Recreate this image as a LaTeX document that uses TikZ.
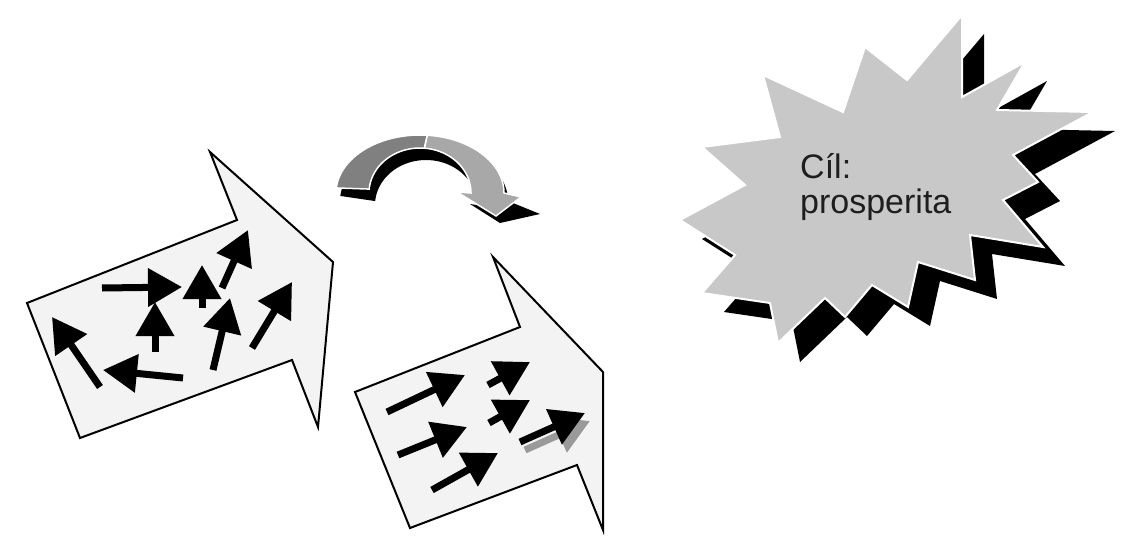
\documentclass[tikz,border=0pt]{standalone}
\usepackage{fontspec}
\setmainfont{Liberation Sans}
\usetikzlibrary{arrows.meta}
\definecolor{paper}{HTML}{F3F3F3}
\definecolor{burst}{HTML}{C8C8C8}
\definecolor{arcdark}{HTML}{808080}
\definecolor{arclight}{HTML}{A8A8A8}
\definecolor{shadowgray}{HTML}{9A9A9A}
\definecolor{inkc}{HTML}{1E1E1E}
\begin{document}
\begin{tikzpicture}[x=1pt,y=-1pt,
  bigarrow/.style={fill=paper,draw=black,line width=2pt,line join=miter},
  pointer/.style={line width=7pt,-{Triangle[length=34pt,width=37pt]}},
  burstshape/.style={fill=burst,draw=white,line width=2pt,line join=miter},
  bursttext/.style={anchor=base west,inner sep=0pt,text=inkc,font=\fontsize{34}{38}\selectfont}]
\fill[white] (0,0) rectangle (1137,551);
\useasboundingbox (0,0) rectangle (1137,551);

% left big arrow
\draw[bigarrow] (27,303) -- (237,220) -- (210,152) -- (333,262) -- (318,427) -- (292,360) -- (80,438) -- cycle;
\draw[pointer] (100,387) -- (52,317);
\draw[pointer] (183,378) -- (103,370);
\draw[pointer] (102,288) -- (182,287);
\draw[pointer] (155,352) -- (155,302);
\draw[pointer] (202,308) -- (202,265);
\draw[pointer] (222,288) -- (248,230);
\draw[pointer] (213,370) -- (230,298);
\draw[pointer] (252,348) -- (292,282);

% right big arrow
\draw[bigarrow] (355,392) -- (520,327) -- (493,257) -- (603,372) -- (603,530) -- (577,465) -- (410,528) -- cycle;
\draw[pointer] (387,412) -- (465,375);
\draw[pointer] (398,455) -- (467,427);
\draw[pointer] (432,490) -- (498,453);
\draw[pointer] (488,385) -- (530,362);
\draw[pointer] (489,423) -- (530,400);
\draw[pointer,color=shadowgray] (525,450) -- (590,421);
\draw[pointer] (520,442) -- (585,413);

% curved arrow: shadow
\fill[black] plot[domain=175:0,samples=60] ({424+84*cos(\x)},{201-58*sin(\x)})
  -- (540,214) -- (500,223) -- (470,204)
  -- plot[domain=0:175,samples=60] ({426+51*cos(\x)},{205-45*sin(\x)}) -- cycle;
% curved arrow: dark part
\filldraw[fill=arcdark,draw=white,line width=1.5pt]
  plot[domain=175:85,samples=40] ({420+84*cos(\x)},{193-58*sin(\x)})
  -- plot[domain=85:175,samples=40] ({420+51*cos(\x)},{193-45*sin(\x)}) -- cycle;
% curved arrow: light part with head
\filldraw[fill=arclight,draw=white,line width=1.5pt]
  plot[domain=85:0,samples=40] ({420+84*cos(\x)},{193-58*sin(\x)})
  -- (521,197) -- (496,216) -- (457,192)
  -- plot[domain=0:85,samples=40] ({420+51*cos(\x)},{193-45*sin(\x)}) -- cycle;

% starburst
\def\burstpath{(702,147) -- (780,137) -- (763,75) -- (843,112) -- (865,47) -- (907,80)
  -- (962,15) -- (962,97) -- (1025,62) -- (997,110) -- (1093,112) -- (1013,155)
  -- (1038,182) -- (1003,200) -- (1043,247) -- (970,235) -- (975,280) -- (918,262)
  -- (908,307) -- (872,285) -- (845,317) -- (825,298) -- (778,343) -- (770,303)
  -- (702,293) -- (735,255) -- (680,220) -- (745,185) -- cycle}
\begin{scope}[shift={(22,19)}]
\fill[black] \burstpath;
\end{scope}
\filldraw[burstshape] \burstpath;
\node[bursttext] (t1) at (800,178) {Cíl:};
\node[bursttext] (t2) at (800,213) {prosperita};
\end{tikzpicture}
\end{document}
